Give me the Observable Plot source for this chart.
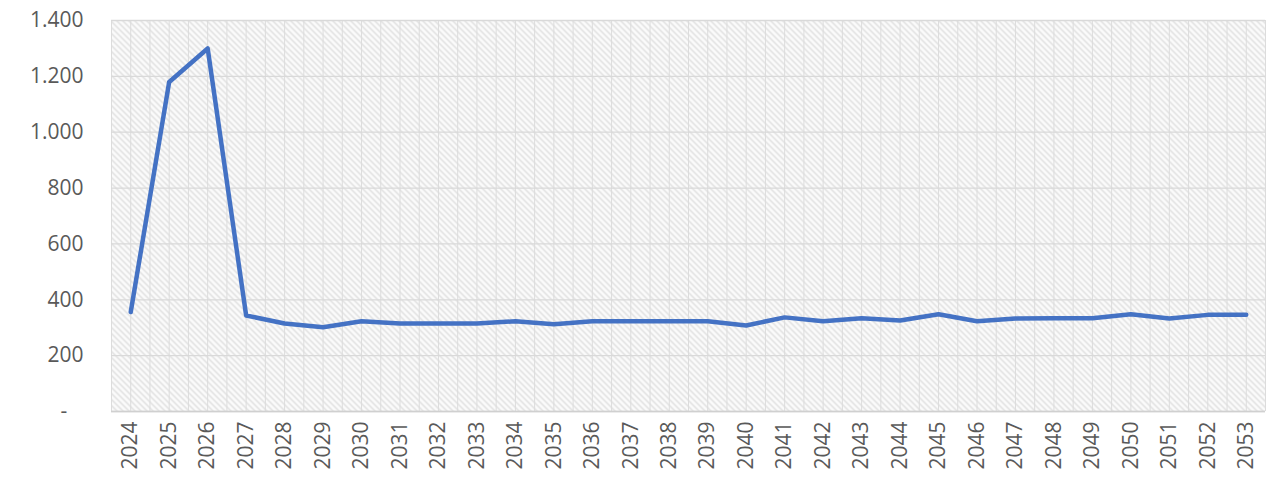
<!DOCTYPE html>
<html>
<head>
<meta charset="utf-8">
<script src="https://cdn.jsdelivr.net/npm/d3@7"></script>
<script src="https://cdn.jsdelivr.net/npm/@observablehq/plot@0.6"></script>
<style>
  html, body { margin: 0; padding: 0; background: #fff; }
  #chart svg { display: block; }
</style>
</head>
<body>
<div id="chart"></div>
<script>
const years = d3.range(2024, 2054);
const values = [356, 1180, 1300, 344, 315, 302, 323, 315, 315, 315,
                323, 312, 323, 323, 323, 323, 308, 337, 323, 334,
                326, 348, 323, 333, 334, 334, 348, 333, 346, 346];
const yTicks = [0, 200, 400, 600, 800, 1000, 1200, 1400];

const data = years.map((y, i) => ({year: y, value: values[i]}));
const fmt = d => d === 0 ? "-\u00a0\u00a0\u00a0" : d3.format(",")(d).replace(",", ".");

const gray = "#595959";
const chart = Plot.plot({
  width: 1271,
  height: 479,
  marginLeft: 111,
  marginRight: 6,
  marginTop: 20,
  marginBottom: 68,
  style: {fontFamily: "'Open Sans', sans-serif", fontSize: "21px", color: gray, background: "#fff"},
  x: {type: "linear", domain: [years[0] - 0.5, years[years.length - 1] + 0.5], label: null},
  y: {domain: [0, 1400], label: null},
  marks: [
    Plot.frame({fill: "url(#hatch)", stroke: "none"}),
    Plot.gridX(d3.range(years[0] - 0.5, years[years.length - 1] + 1, 0.5), {stroke: "#dcdcdc", strokeOpacity: 1, strokeWidth: 1}),
    Plot.gridY(yTicks, {stroke: "#d9d9d9", strokeOpacity: 1, strokeWidth: 1.3}),
    Plot.ruleY([0], {stroke: "#d0d0d0", strokeWidth: 1.5}),
    Plot.axisY(yTicks, {tickSize: 0, tickPadding: 28, tickFormat: fmt, fill: gray, fontSize: 21, label: null}),
    Plot.axisX(years, {tickSize: 0, tickPadding: 10, tickRotate: -90, tickFormat: d => String(d), fill: gray, fontSize: 21, label: null}),
    Plot.line(data, {x: "year", y: "value", stroke: "#4472C4", strokeWidth: 4.5, strokeLinejoin: "round", strokeLinecap: "round"})
  ]
});

const ns = "http://www.w3.org/2000/svg";
const defs = document.createElementNS(ns, "defs");
defs.innerHTML = `<pattern id="hatch" patternUnits="userSpaceOnUse" width="6" height="6">
  <rect width="6" height="6" fill="#fbfbfb"></rect>
  <path d="M-1,-1 L7,7 M-1,5 L1,7 M5,-1 L7,1" stroke="#dedede" stroke-width="1.4"></path>
</pattern>`;
chart.insertBefore(defs, chart.firstChild);
document.getElementById("chart").appendChild(chart);
</script>
</body>
</html>
